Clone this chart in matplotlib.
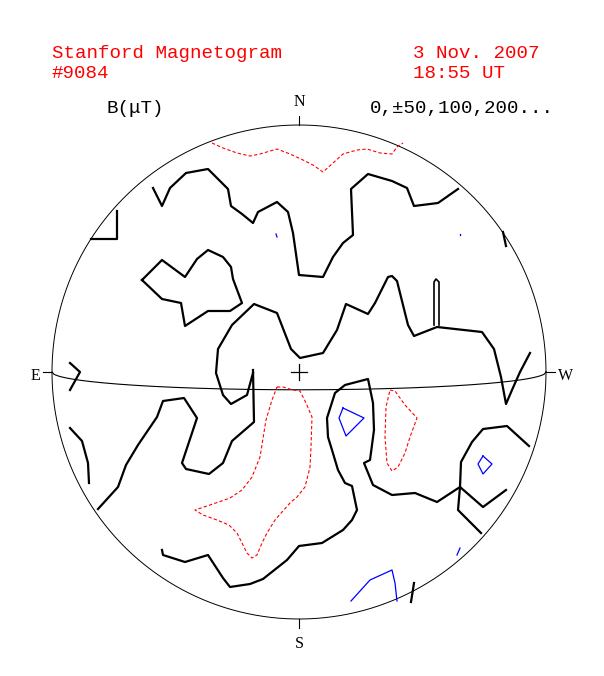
import numpy as np
import matplotlib.pyplot as plt

# contour polylines (pixel positions on the original plot)
black_lines = [
    [(153, 188), (162, 206), (170, 188), (186, 173), (208, 169), (228, 189), (231, 206), (242, 214),
     (253, 223), (258, 212), (277, 202), (288, 212), (293, 233), (299, 275), (323, 277), (333, 257),
     (343, 243), (353, 235), (351, 189), (368, 174), (392, 181), (407, 188), (414, 206), (438, 203),
     (458, 189)],
    [(91, 239), (117, 239), (117, 211)],
    [(503, 232), (506, 246)],
    [(142, 280), (162, 260), (185, 277), (197, 259), (208, 250), (223, 257), (231, 267), (233, 279),
     (242, 303), (230, 311), (208, 311), (185, 326), (181, 303), (162, 299), (142, 280)],
    [(253, 373), (247, 395), (231, 404), (223, 395), (216, 373), (218, 349), (232, 325), (254, 304),
     (277, 313), (291, 349), (300, 358), (323, 353), (337, 330), (346, 304), (368, 314), (375, 303),
     (388, 277), (392, 276), (397, 281), (408, 325), (414, 336), (437, 327), (482, 332), (494, 349),
     (501, 377), (506, 404), (512, 390), (520, 372), (530, 353)],
    [(253, 370), (254, 422), (232, 441), (223, 463), (209, 474), (186, 469), (182, 463), (187, 448),
     (197, 418), (184, 398), (163, 401), (157, 417), (138, 445), (126, 465), (118, 487), (98, 509)],
    [(70, 363), (80, 372), (70, 390)],
    [(70, 428), (82, 441), (88, 463), (89, 483)],
    [(162, 550), (163, 555), (185, 562), (208, 555), (223, 578), (230, 587), (250, 584), (263, 579),
     (287, 560), (299, 546), (322, 543), (343, 530), (352, 520), (357, 510), (352, 486), (345, 483),
     (338, 470), (332, 450), (328, 437), (327, 418), (335, 393), (345, 385), (368, 379), (373, 403),
     (374, 430), (370, 460), (364, 463), (373, 485), (392, 495), (415, 493), (437, 502), (460, 487),
     (483, 507), (506, 490)],
    [(529, 446), (507, 426), (483, 429), (472, 442), (461, 462), (460, 487), (458, 510), (481, 533)],
    [(411, 602), (414, 583)],
]
# the narrow loop near (436, 300)
black_loop = [(434, 325), (434, 282), (436, 279), (439, 282), (439, 325)]

red_lines = [
    [(212, 143), (223, 148), (237, 153), (250, 156), (260, 154), (277, 149), (290, 154), (303, 160),
     (313, 165), (323, 172), (333, 163), (343, 154), (357, 150), (367, 149), (380, 153), (392, 154),
     (397, 147), (403, 143)],
    [(277, 387), (283, 387), (293, 390), (300, 391), (306, 403), (312, 417), (311, 447), (310, 467),
     (305, 487), (297, 497), (290, 503), (282, 512), (275, 520), (267, 533), (262, 543), (257, 555),
     (252, 558), (247, 553), (242, 543), (237, 533), (229, 525), (217, 520), (203, 515), (195, 510),
     (210, 505), (230, 498), (242, 490), (252, 477), (260, 457), (266, 420), (272, 400), (277, 387)],
    [(390, 390), (395, 391), (405, 405), (417, 418), (410, 437), (405, 453), (398, 467), (392, 471),
     (387, 463), (385, 437), (386, 407), (390, 390)],
]

blue_lines = [
    [(343, 408), (364, 418), (346, 436), (339, 418), (343, 408)],
    [(483, 456), (492, 464), (483, 474), (478, 464), (483, 456)],
    [(457, 555), (460, 548)],
    [(351, 601), (370, 580), (392, 570), (395, 583), (397, 601)],
    [(276, 234), (277, 237)],
    [(460, 234), (460, 235)],
]

W, H = 604, 676
cx, cy, R = 299, 372, 247


def to_disk(pts):
    a = np.array(pts, dtype=float)
    return (a[:, 0] - cx) / R, (cy - a[:, 1]) / R


fig = plt.figure(figsize=(W / 100, H / 100), dpi=100)
ax = fig.add_axes([0, 0, 1, 1])
ax.set_xlim(-cx / R, (W - cx) / R)
ax.set_ylim((cy - H) / R, cy / R)
ax.axis('off')

# limb, equator, ticks, centre cross
t = np.linspace(0, 2 * np.pi, 400)
ax.plot(np.cos(t), np.sin(t), color='black', lw=0.7)
xe = np.linspace(-1, 1, 300)
ax.plot(xe, -0.072 * np.sqrt(1 - xe ** 2), color='black', lw=0.8)
tk = 9 / R
ax.plot([0, 0], [1, 1 + tk], color='black', lw=0.8)
ax.plot([0, 0], [-1, -1 - tk], color='black', lw=0.8)
ax.plot([-1, -1 - tk], [0, 0], color='black', lw=0.8)
ax.plot([1, 1 + tk], [0, 0], color='black', lw=0.8)
c = 8 / R
ax.plot([-c, c], [0, 0], color='black', lw=0.9)
ax.plot([0, 0], [-c, c], color='black', lw=0.9)

for ln in black_lines:
    x, y = to_disk(ln)
    ax.plot(x, y, color='black', lw=1.6)
x, y = to_disk(black_loop)
ax.plot(x, y, color='black', lw=1.2)
for ln in red_lines:
    x, y = to_disk(ln)
    ax.plot(x, y, color='red', lw=0.8, dashes=(3, 2))
for ln in blue_lines:
    x, y = to_disk(ln)
    ax.plot(x, y, color='blue', lw=0.9)

mono = 'Liberation Mono'
serif = 'Liberation Serif'


def ftext(px, py, s, **kw):
    fig.text(px / W, 1 - py / H, s, va='baseline', **kw)


ftext(52, 58, 'Stanford Magnetogram', color='red', family=mono, size=13.8)
ftext(52, 78, '#9084', color='red', family=mono, size=13.8)
ftext(413, 58, '3 Nov. 2007', color='red', family=mono, size=13.8)
ftext(413, 78, '18:55 UT', color='red', family=mono, size=13.8)
ftext(106, 113, 'B(\u03bcT)', color='black', family=mono, size=13.8)
ftext(370, 113, '0,\u00b150,100,200...', color='black', family=mono, size=13.8)
ftext(299, 106, 'N', color='black', family=serif, size=11.5, ha='center')
ftext(299, 648, 'S', color='black', family=serif, size=11.5, ha='center')
ftext(35, 380, 'E', color='black', family=serif, size=11.5, ha='center')
ftext(566, 380, 'W', color='black', family=serif, size=11.5, ha='center')

fig.savefig('out.png', dpi=100)
